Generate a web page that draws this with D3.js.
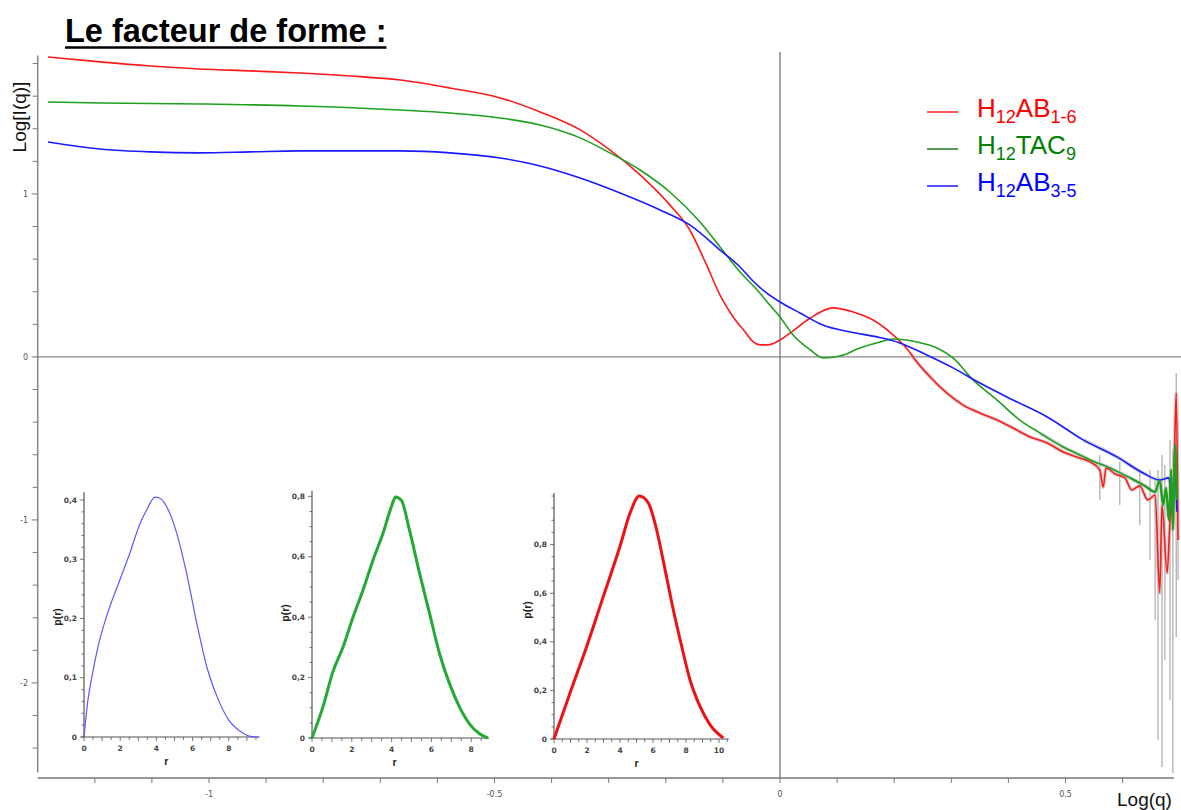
<!DOCTYPE html>
<html lang="fr">
<head>
<meta charset="UTF-8">
<title>Le facteur de forme</title>
<script src="https://d3js.org/d3.v7.min.js"></script>
<style>
  body { margin: 0; background: #fff; }
  svg { display: block; font-family: "Liberation Sans", Arial, sans-serif; }
  .tick-lbl { font-family: "DejaVu Sans", sans-serif; font-size: 8px; fill: #555; }
  .in-lbl { font-family: "DejaVu Sans", sans-serif; font-size: 7.5px; font-weight: bold; fill: #444; }
</style>
</head>
<body>
<svg id="chart" width="1181" height="810"></svg>
<script>
// ---- data: [log q, log I(q)] ----
const redCurve = [
  [-1.282,1.840],[-1.191,1.810],[-1.103,1.785],[-1.016,1.767],[-0.928,1.755],[-0.841,1.742],
  [-0.753,1.724],[-0.665,1.699],[-0.578,1.650],[-0.490,1.589],[-0.420,1.503],[-0.350,1.393],
  [-0.298,1.270],[-0.245,1.117],[-0.193,0.933],[-0.158,0.779],[-0.131,0.583],[-0.105,0.380],
  [-0.082,0.245],[-0.061,0.153],[-0.047,0.092],[-0.035,0.074],[-0.021,0.074],[0,0.104],
  [0.018,0.147],[0.053,0.239],[0.093,0.301],[0.128,0.276],[0.163,0.227],[0.198,0.135],
  [0.228,0.025],[0.233,0.000],[0.263,-0.123],[0.292,-0.221],[0.320,-0.294],[0.350,-0.344],
  [0.380,-0.387],[0.408,-0.436],[0.438,-0.491],[0.468,-0.528],[0.496,-0.583],[0.525,-0.620],
  [0.543,-0.644],[0.560,-0.693],[0.566,-0.798],[0.571,-0.681],[0.587,-0.718],[0.604,-0.742],
  [0.616,-0.816],[0.630,-0.791],[0.644,-0.877],[0.657,-0.847],[0.665,-1.448],[0.669,-0.908],
  [0.678,-1.325],[0.683,-1.000],[0.690,-0.693],[0.694,-0.221],[0.697,-1.123]
];
const greenCurve = [
  [-1.282,1.564],[-1.191,1.558],[-1.016,1.552],[-0.841,1.540],[-0.665,1.515],[-0.578,1.497],
  [-0.490,1.466],[-0.420,1.423],[-0.350,1.344],[-0.298,1.252],[-0.245,1.147],[-0.193,1.012],
  [-0.140,0.828],[-0.105,0.675],[-0.070,0.521],[-0.040,0.411],[-0.018,0.319],[0,0.245],
  [0.023,0.135],[0.053,0.043],[0.075,-0.006],[0.105,0.006],[0.140,0.055],[0.175,0.092],
  [0.198,0.110],[0.240,0.092],[0.275,0.055],[0.303,-0.006],[0.338,-0.141],[0.380,-0.264],
  [0.420,-0.387],[0.455,-0.466],[0.496,-0.552],[0.525,-0.601],[0.543,-0.632],[0.578,-0.681],
  [0.613,-0.742],[0.639,-0.791],[0.657,-0.828],[0.665,-0.755],[0.671,-0.908],[0.676,-0.804],
  [0.681,-1.000],[0.685,-0.693],[0.688,-1.061],[0.692,-0.540],[0.695,-0.877]
];
const blueCurve = [
  [-1.282,1.319],[-1.191,1.276],[-1.103,1.258],[-1.016,1.252],[-0.928,1.258],[-0.841,1.264],
  [-0.665,1.264],[-0.578,1.252],[-0.490,1.221],[-0.420,1.172],[-0.350,1.098],[-0.280,1.006],
  [-0.210,0.902],[-0.158,0.810],[-0.105,0.656],[-0.070,0.552],[-0.049,0.472],[-0.026,0.399],
  [0,0.337],[0.035,0.270],[0.075,0.196],[0.123,0.153],[0.170,0.123],[0.210,0.086],
  [0.257,0.012],[0.303,-0.067],[0.350,-0.160],[0.408,-0.264],[0.468,-0.368],[0.531,-0.509],
  [0.590,-0.613],[0.636,-0.712],[0.665,-0.755],[0.681,-0.742],[0.687,-0.877],[0.692,-0.693],
  [0.695,-0.950]
];
// grey error bars at the high-q end: [log q, top, bottom]
const errorBars = [
  [0.560,-0.601,-0.877],[0.595,-0.644,-0.908],[0.630,-0.693,-1.031],[0.648,-0.693,-1.245],
  [0.657,-0.755,-1.613],[0.662,-0.693,-2.350],[0.669,-0.601,-2.515],[0.674,-0.663,-1.859],
  [0.683,-0.509,-2.104],[0.688,-0.571,-2.552],[0.694,-0.098,-1.718],[0.697,-0.387,-1.368]
];

// insets: p(r) distributions [r, p(r)]
const bluePr = [
  [0,0],[0.22,0.063],[0.44,0.102],[0.78,0.153],[1.24,0.203],[1.98,0.265],[2.53,0.31],
  [3.09,0.36],[3.46,0.383],[3.92,0.405],[4.2,0.403],[4.66,0.383],[5.12,0.344],[5.67,0.276],
  [6.23,0.192],[6.78,0.119],[7.34,0.069],[7.99,0.029],[8.63,0.0096],[9.19,0.001],[9.65,0]
];
const greenPr = [
  [0,0],[0.55,0.103],[1.05,0.219],[1.56,0.301],[2.06,0.40],[2.56,0.489],[3.06,0.588],
  [3.56,0.676],[3.98,0.764],[4.2,0.798],[4.49,0.787],[4.9,0.688],[5.41,0.544],[5.91,0.412],
  [6.41,0.279],[6.91,0.18],[7.41,0.103],[7.91,0.047],[8.42,0.014],[8.84,0]
];
const redPr = [
  [0,0],[0.97,0.189],[1.98,0.381],[2.99,0.587],[4.0,0.793],[4.61,0.93],[5.17,1.0],
  [5.72,0.971],[6.22,0.861],[6.73,0.697],[7.23,0.532],[7.74,0.381],[8.24,0.244],
  [8.85,0.134],[9.45,0.059],[10.26,0.004]
];

const xTickLabels = [-1, -0.5, 0, 0.5];
const yTickLabels = [-2, -1, 0, 1];
const seriesNames = [
  {base: "H", sub1: "12", mid: "AB", sub2: "1-6"},
  {base: "H", sub1: "12", mid: "TAC", sub2: "9"},
  {base: "H", sub1: "12", mid: "AB", sub2: "3-5"}
];

const svg = d3.select("#chart");

// main scales
const x = d3.scaleLinear().domain([-1.3, 0.7]).range([37.7, 1179.7]);
const y = d3.scaleLinear().domain([-2.55, 1.85]).range([772.6, 55.4]);

// title
const title = svg.append("text")
  .attr("x", 65).attr("y", 42)
  .attr("font-size", 32.5).attr("font-weight", "bold")
  .text("Le facteur de forme :");
const tw = title.node().getComputedTextLength();
svg.append("line").attr("x1", 65).attr("x2", 65 + tw)
  .attr("y1", 47.5).attr("y2", 47.5).attr("stroke", "#000").attr("stroke-width", 2.5);

// y axis
svg.append("line").attr("x1", x(-1.3)).attr("x2", x(-1.3))
  .attr("y1", y(1.85)).attr("y2", y(-2.55)).attr("stroke", "#888").attr("stroke-width", 1.5);
const yMinor = d3.range(-12, 10).map(i => i / 5);
svg.append("g").selectAll("line").data(yMinor).join("line")
  .attr("x1", d => x(-1.3) - (Number.isInteger(d) ? 6 : 5)).attr("x2", x(-1.3))
  .attr("y1", d => y(d)).attr("y2", d => y(d))
  .attr("stroke", "#777").attr("stroke-width", 1);
svg.append("g").selectAll("text").data(yTickLabels).join("text")
  .attr("class", "tick-lbl").attr("text-anchor", "end")
  .attr("x", 28).attr("y", d => y(d)).attr("dy", "0.35em")
  .text(d => d);

// x axis
const xAxisY = 778;
svg.append("line").attr("x1", x(-1.3)).attr("x2", x(0.69))
  .attr("y1", xAxisY).attr("y2", xAxisY).attr("stroke", "#999").attr("stroke-width", 2);
const xMinor = d3.range(-12, 7).map(i => i / 10);
svg.append("g").selectAll("line").data(xMinor).join("line")
  .attr("x1", d => x(d)).attr("x2", d => x(d))
  .attr("y1", xAxisY).attr("y2", xAxisY + 5)
  .attr("stroke", "#777").attr("stroke-width", 1);
svg.append("g").selectAll("text").data(xTickLabels).join("text")
  .attr("class", "tick-lbl").attr("text-anchor", "middle")
  .attr("x", d => x(d)).attr("y", 797)
  .text(d => d);

// zero lines
svg.append("line").attr("x1", x(-1.3)).attr("x2", 1181)
  .attr("y1", y(0)).attr("y2", y(0)).attr("stroke", "#888").attr("stroke-width", 1.3);
svg.append("line").attr("x1", x(0)).attr("x2", x(0))
  .attr("y1", 52).attr("y2", xAxisY).attr("stroke", "#777").attr("stroke-width", 1.3);

// axis titles
svg.append("text").attr("transform", "translate(19,117) rotate(-90)")
  .attr("text-anchor", "middle").attr("dy", "0.35em")
  .attr("font-size", 19).attr("fill", "#111").text("Log[I(q)]");
svg.append("text").attr("x", 1117).attr("y", 806)
  .attr("font-size", 19).attr("fill", "#111").text("Log(q)");

// error bars
svg.append("g").selectAll("line").data(errorBars).join("line")
  .attr("x1", d => x(d[0])).attr("x2", d => x(d[0]))
  .attr("y1", d => y(d[1])).attr("y2", d => y(d[2]))
  .attr("stroke", "#bbb").attr("stroke-width", 1.5);

const line = d3.line().x(d => x(d[0])).y(d => y(d[1])).curve(d3.curveMonotoneX);

// grey halo of noise under the high-q part
[[redCurve, 0.2], [greenCurve, 0.45], [blueCurve, 0.5]].forEach(([data, from]) => {
  svg.append("path").datum(data.filter(d => d[0] >= from))
    .attr("d", line).attr("fill", "none")
    .attr("stroke", "#c4c4c4").attr("stroke-width", 4).attr("stroke-opacity", 0.7);
});

const mainColors = ["#ff1a1a", "#1fa01f", "#1a1aff"];
[redCurve, greenCurve, blueCurve].forEach((data, i) => {
  svg.append("path").datum(data)
    .attr("d", line).attr("fill", "none")
    .attr("stroke", mainColors[i]).attr("stroke-width", 1.6);
});
// redraw green on top near the end, as in the picture
svg.append("path").datum(greenCurve.filter(d => d[0] >= 0.6))
  .attr("d", line).attr("fill", "none").attr("stroke", mainColors[1]).attr("stroke-width", 2.2);

// legend
const legendText = ["#ff0000", "#008000", "#0000ff"];
const legendLine = ["#ff2020", "#1e7b1e", "#1a1aff"];
const legendY = [117, 154, 191];
seriesNames.forEach((s, i) => {
  svg.append("line").attr("x1", 927).attr("x2", 958)
    .attr("y1", legendY[i] - 5).attr("y2", legendY[i] - 5)
    .attr("stroke", legendLine[i]).attr("stroke-width", 1.5);
  const t = svg.append("text").attr("x", 977).attr("y", legendY[i])
    .attr("font-size", 26).attr("fill", legendText[i]);
  t.append("tspan").text(s.base);
  t.append("tspan").attr("font-size", 18).attr("dy", 6).text(s.sub1);
  t.append("tspan").attr("dy", -6).text(s.mid);
  t.append("tspan").attr("font-size", 18).attr("dy", 6).text(s.sub2);
});

// ---- p(r) insets ----
const commaFmt = d => d === 0 ? "0" : String(+d.toFixed(2)).replace(".", ",");
const insets = [
  {data: bluePr, color: "#5a5aff", width: 1.2, ox: 84, oy: 737, rMax: 9.7, rPx: 18.1,
   pMax: 0.408, pPx: 592.5, pMajor: [0, 0.1, 0.2, 0.3, 0.4], pStep: 0.02,
   rMajor: [0, 2, 4, 6, 8], labX: 57, labY: 617},
  {data: greenPr, color: "#22aa33", width: 3, ox: 312, oy: 738, rMax: 8.9, rPx: 19.9,
   pMax: 0.809, pPx: 302, pMajor: [0, 0.2, 0.4, 0.6, 0.8], pStep: 0.05,
   rMajor: [0, 2, 4, 6, 8], labX: 285, labY: 613},
  {data: redPr, color: "#ee1111", width: 3, ox: 554, oy: 739, rMax: 10.6, rPx: 16.5,
   pMax: 1.0, pPx: 243, pMajor: [0, 0.2, 0.4, 0.6, 0.8], pStep: 0.05,
   rMajor: [0, 2, 4, 6, 8, 10], labX: 527, labY: 610}
];

insets.forEach(c => {
  const g = svg.append("g");
  const ix = d3.scaleLinear().domain([0, c.rMax]).range([c.ox, c.ox + c.rMax * c.rPx]);
  const iy = d3.scaleLinear().domain([0, c.pMax]).range([c.oy, c.oy - c.pMax * c.pPx]);

  g.append("line").attr("x1", c.ox).attr("x2", c.ox)
    .attr("y1", c.oy).attr("y2", iy(c.pMax) - 3).attr("stroke", "#555").attr("stroke-width", 1.2);
  g.append("line").attr("x1", c.ox - 3).attr("x2", ix(c.rMax))
    .attr("y1", c.oy).attr("y2", c.oy).attr("stroke", "#555").attr("stroke-width", 1.2);

  const pMinor = d3.range(0, Math.floor(c.pMax / c.pStep + 1e-6) + 1).map(i => +(i * c.pStep).toFixed(3));
  g.selectAll(".pm").data(pMinor).join("line")
    .attr("x1", d => c.ox - (c.pMajor.includes(d) ? 4 : 2.5)).attr("x2", c.ox)
    .attr("y1", d => iy(d)).attr("y2", d => iy(d)).attr("stroke", "#555").attr("stroke-width", 0.8);
  g.selectAll(".pl").data(c.pMajor).join("text")
    .attr("class", "in-lbl").attr("text-anchor", "end")
    .attr("x", c.ox - 7).attr("y", d => iy(d)).attr("dy", "0.35em").text(commaFmt);

  const rMinor = d3.range(0, Math.floor(c.rMax * 2) + 1).map(i => i / 2);
  g.selectAll(".rm").data(rMinor).join("line")
    .attr("x1", d => ix(d)).attr("x2", d => ix(d))
    .attr("y1", c.oy).attr("y2", d => c.oy + (Number.isInteger(d) ? 4 : 3))
    .attr("stroke", "#555").attr("stroke-width", 0.8);
  g.selectAll(".rl").data(c.rMajor).join("text")
    .attr("class", "in-lbl").attr("text-anchor", "middle")
    .attr("x", d => ix(d)).attr("y", c.oy + 14).text(d => d);

  g.append("text").attr("transform", `translate(${c.labX},${c.labY}) rotate(-90)`)
    .attr("text-anchor", "middle").attr("dy", "0.35em")
    .attr("font-size", 10.5).attr("font-weight", "bold").attr("fill", "#222").text("p(r)");
  g.append("text").attr("x", ix(c.rMax / 2 - 0.3)).attr("y", c.oy + 28)
    .attr("text-anchor", "middle").attr("font-size", 10.5).attr("font-weight", "bold")
    .attr("fill", "#222").text("r");

  const pl = d3.line().x(d => ix(d[0])).y(d => iy(d[1])).curve(d3.curveMonotoneX);
  g.append("path").datum(c.data).attr("d", pl).attr("fill", "none")
    .attr("stroke", c.color).attr("stroke-width", c.width).attr("stroke-linejoin", "round");
});
</script>
</body>
</html>
